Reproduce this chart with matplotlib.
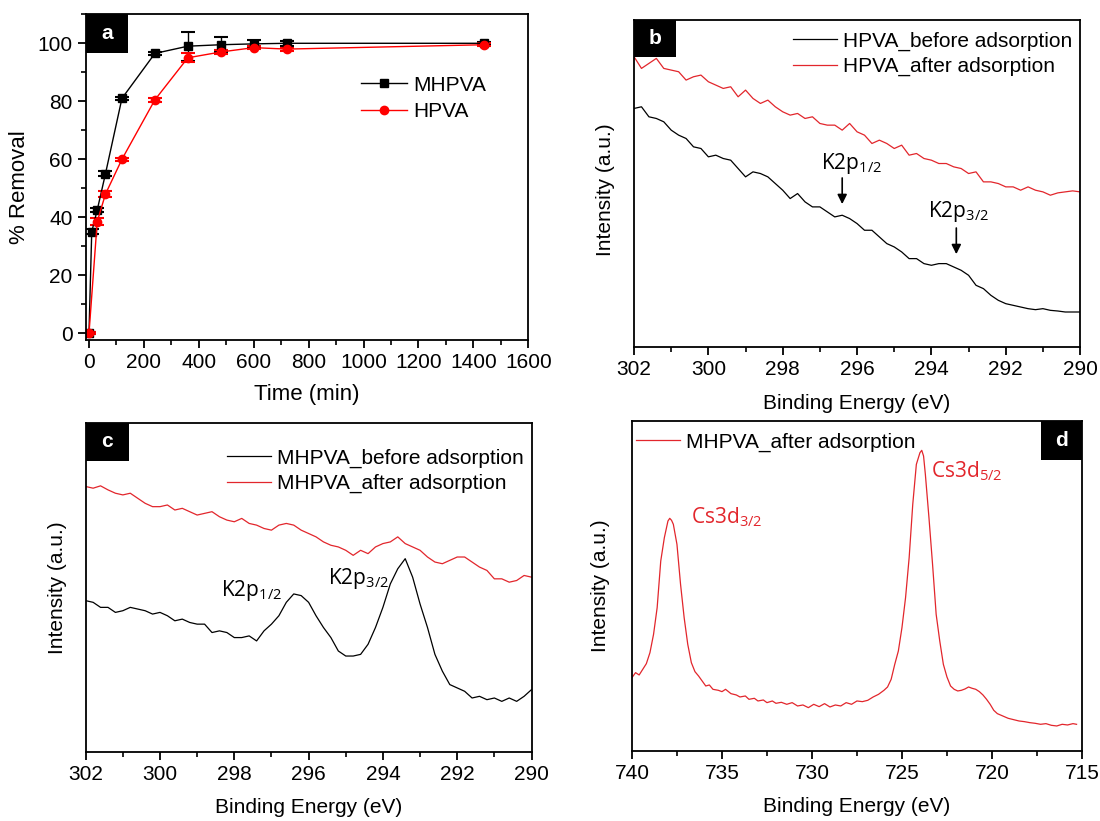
import matplotlib
matplotlib.use('Agg')
import matplotlib.pyplot as plt
from matplotlib.patches import Rectangle
from matplotlib.ticker import MultipleLocator
import numpy as np

plt.rcParams['font.family'] = ['Liberation Sans', 'DejaVu Sans']
plt.rcParams['axes.linewidth'] = 1.3
plt.rcParams['mathtext.fontset'] = 'dejavusans'

RED = '#e2262c'
ANNOT_FONT = ['Open Sans', 'DejaVu Sans']

# (a) removal kinetics
time_mhpva = [0, 10, 30, 60, 120, 240, 360, 480, 600, 720, 1440]
removal_mhpva = [0, 35, 42.5, 55, 81, 96.5, 99, 99.5, 99.8, 100, 100]
err_mhpva = [0.3, 0.8, 0.8, 0.8, 0.6, 0.5, 5.0, 2.5, 1.2, 0.8, 0.5]
time_hpva = [0, 30, 60, 120, 240, 360, 480, 600, 720, 1440]
removal_hpva = [0, 38.5, 48, 60, 80.5, 95, 97, 98.5, 98, 99.5]
err_hpva = [0.3, 1.2, 1.0, 0.6, 0.6, 1.5, 0.6, 0.6, 0.5, 0.5]

# (b) K 2p region, HPVA
be_b = np.linspace(302, 290, 61)
hpva_before = [715, 720, 690, 685, 675, 650, 635, 625, 600, 595, 570, 575, 565, 560, 535, 510,
               525, 520, 510, 490, 470, 445, 460, 435, 420, 420, 405, 390, 395, 385, 370, 350,
               350, 330, 310, 300, 285, 265, 265, 250, 245, 250, 250, 240, 230, 215, 185, 175,
               155, 140, 130, 125, 120, 115, 112, 115, 110, 108, 105, 105, 105]
hpva_after = [870, 835, 850, 865, 835, 830, 825, 800, 810, 815, 795, 785, 775, 780, 750, 770,
              745, 730, 740, 720, 705, 695, 700, 685, 690, 670, 665, 665, 650, 670, 645, 635,
              610, 620, 610, 595, 605, 575, 580, 565, 560, 550, 550, 540, 535, 520, 525, 495,
              495, 490, 480, 480, 470, 480, 470, 465, 455, 462, 465, 468, 465]

# (c) K 2p region, MHPVA
be_c = np.linspace(302, 290, 61)
mhpva_before = [450, 445, 430, 430, 415, 420, 430, 425, 420, 410, 415, 405, 390, 395, 385, 380,
                380, 355, 360, 355, 340, 340, 345, 330, 360, 380, 405, 445, 470, 465, 445, 405,
                370, 340, 300, 285, 285, 290, 320, 370, 430, 500, 545, 575, 520, 440, 370, 290,
                240, 200, 190, 180, 160, 165, 155, 160, 150, 160, 150, 165, 185]
mhpva_after = [790, 785, 792, 780, 770, 765, 770, 755, 740, 730, 730, 735, 720, 725, 715, 705,
               710, 715, 700, 690, 685, 695, 680, 675, 665, 660, 675, 680, 675, 660, 650, 640,
               625, 615, 610, 600, 585, 600, 590, 610, 620, 625, 640, 620, 610, 600, 580, 565,
               560, 570, 580, 580, 565, 550, 540, 515, 515, 505, 510, 525, 520]

# (d) Cs 3d region, MHPVA after adsorption
be_d = [740.0, 739.8, 739.6, 739.4, 739.2, 739.0, 738.8, 738.6, 738.4, 738.2, 738.0, 737.9,
        737.8, 737.7, 737.5, 737.3, 737.1, 736.9, 736.7, 736.5, 736.3, 736.1, 735.9, 735.7,
        735.5, 735.2, 735.0, 734.8, 734.5, 734.2, 734.0, 733.7, 733.5, 733.2, 733.0, 732.7,
        732.5, 732.2, 732.0, 731.7, 731.4, 731.1, 730.8, 730.5, 730.2, 729.9, 729.6, 729.3,
        729.0, 728.7, 728.4, 728.1, 727.8, 727.5, 727.2, 726.9, 726.6, 726.3, 726.0, 725.8,
        725.6, 725.4, 725.2, 725.0, 724.8, 724.6, 724.4, 724.2, 724.0, 723.9, 723.8, 723.7,
        723.5, 723.3, 723.1, 722.9, 722.7, 722.5, 722.3, 722.1, 721.9, 721.7, 721.5, 721.3,
        721.1, 720.9, 720.7, 720.5, 720.3, 720.1, 719.9, 719.7, 719.4, 719.1, 718.8, 718.5,
        718.2, 717.9, 717.6, 717.3, 717.0, 716.7, 716.4, 716.1, 715.8, 715.5, 715.3]
cs_after = [220, 235, 228, 245, 262, 295, 350, 430, 570, 640, 690, 698,
            692, 680, 620, 500, 400, 320, 265, 238, 225, 210, 195, 198,
            185, 182, 178, 185, 172, 168, 162, 165, 155, 158, 150, 153,
            145, 150, 143, 146, 140, 145, 135, 138, 130, 140, 133, 142,
            132, 138, 135, 145, 140, 150, 148, 152, 162, 170, 182, 192,
            215, 260, 300, 370, 460, 580, 740, 860, 895, 902, 885, 830,
            700, 560, 410, 330, 260, 222, 195, 185, 180, 182, 186, 192,
            188, 185, 178, 168, 155, 140, 122, 112, 105, 98, 94, 90,
            88, 85, 83, 80, 82, 77, 75, 80, 78, 82, 80]


def panel_tag(ax, letter, x0, w, h):
    ax.add_patch(Rectangle((x0, 1 - h), w, h, transform=ax.transAxes,
                           facecolor='black', edgecolor='none', clip_on=False, zorder=5))
    ax.text(x0 + w / 2, 1 - h / 2, letter, transform=ax.transAxes, color='white',
            fontsize=15, fontweight='bold', ha='center', va='center', zorder=6)


def style_xps(ax, lo, hi, major, minor, ylim):
    ax.set_xlim(lo, hi)
    ax.set_ylim(*ylim)
    ax.xaxis.set_major_locator(MultipleLocator(major))
    ax.xaxis.set_minor_locator(MultipleLocator(minor))
    ax.set_yticks([])
    ax.tick_params(axis='x', which='major', direction='out', length=6, width=1.3,
                   labelsize=15, top=False)
    ax.tick_params(axis='x', which='minor', direction='out', length=3.5, width=1.2, top=False)
    ax.set_xlabel('Binding Energy (eV)', fontsize=15)
    ax.set_ylabel('Intensity (a.u.)', fontsize=15)


def xps_legend(ax, x, y):
    ax.legend(loc='upper left', bbox_to_anchor=(x, y), frameon=False, fontsize=15,
              handlelength=2.1, handletextpad=0.3, labelspacing=0.3, borderpad=0,
              borderaxespad=0)


fig = plt.figure(figsize=(11, 8.21), dpi=100)

# ---- a ----
ax_a = fig.add_axes([0.0779, 0.5859, 0.4024, 0.3967])
ax_a.errorbar(time_mhpva, removal_mhpva, yerr=err_mhpva, color='black', marker='s',
              markersize=6, lw=1, capsize=5, capthick=1.5, elinewidth=1, label='MHPVA')
ax_a.errorbar(time_hpva, removal_hpva, yerr=err_hpva, color='red', marker='o',
              markersize=6, lw=1, capsize=5, capthick=1.5, elinewidth=1, label='HPVA')
ax_a.set_xlim(-12, 1600)
ax_a.set_ylim(-2.3, 110)
ax_a.xaxis.set_major_locator(MultipleLocator(200))
ax_a.xaxis.set_minor_locator(MultipleLocator(100))
ax_a.yaxis.set_major_locator(MultipleLocator(20))
ax_a.yaxis.set_minor_locator(MultipleLocator(10))
ax_a.tick_params(which='major', direction='out', length=6, width=1.3, labelsize=15)
ax_a.tick_params(which='minor', direction='out', length=3.5, width=1.2)
ax_a.set_xlabel('Time (min)', fontsize=16)
ax_a.set_ylabel('% Removal', fontsize=16)
ax_a.xaxis.set_label_coords(0.5, -0.135)
ax_a.yaxis.set_label_coords(-0.125, 0.47)
handles, labels = ax_a.get_legend_handles_labels()
ax_a.legend([h[0] for h in handles], labels, loc='upper left', bbox_to_anchor=(0.622, 0.812),
            frameon=False, fontsize=15, handlelength=2.2, handletextpad=0.3,
            labelspacing=0.35, borderpad=0, borderaxespad=0)
panel_tag(ax_a, 'a', 0.0, 0.095, 0.119)

# ---- b ----
ax_b = fig.add_axes([0.5764, 0.5773, 0.4055, 0.3983])
ax_b.plot(be_b, hpva_before, color='black', lw=0.9, label='HPVA_before adsorption')
ax_b.plot(be_b, hpva_after, color=RED, lw=0.9, label='HPVA_after adsorption')
style_xps(ax_b, 302, 290, 2, 1, (0, 980))
ax_b.xaxis.set_label_coords(0.5, -0.145)
ax_b.yaxis.set_label_coords(-0.043, 0.48)
xps_legend(ax_b, 0.357, 0.965)
ax_b.annotate('', xy=(296.4, 420), xytext=(296.4, 515),
              arrowprops=dict(arrowstyle='-|>', color='black', lw=1.2, mutation_scale=14))
ax_b.text(296.16, 550, r'K2p$_\mathregular{1/2}$', ha='center', va='center', fontsize=15,
          family=ANNOT_FONT)
ax_b.annotate('', xy=(293.33, 270), xytext=(293.33, 365),
              arrowprops=dict(arrowstyle='-|>', color='black', lw=1.2, mutation_scale=14))
ax_b.text(293.26, 405, r'K2p$_\mathregular{3/2}$', ha='center', va='center', fontsize=15,
          family=ANNOT_FONT)
panel_tag(ax_b, 'b', 0.0, 0.094, 0.112)

# ---- c ----
ax_c = fig.add_axes([0.0779, 0.0844, 0.4053, 0.4007])
ax_c.plot(be_c, mhpva_before, color='black', lw=0.9, label='MHPVA_before adsorption')
ax_c.plot(be_c, mhpva_after, color=RED, lw=0.9, label='MHPVA_after adsorption')
style_xps(ax_c, 302, 290, 2, 1, (0, 980))
ax_c.xaxis.set_label_coords(0.5, -0.14)
ax_c.yaxis.set_label_coords(-0.042, 0.5)
xps_legend(ax_c, 0.318, 0.922)
ax_c.text(297.54, 480, r'K2p$_\mathregular{1/2}$', ha='center', va='center', fontsize=15,
          family=ANNOT_FONT)
ax_c.text(294.66, 515, r'K2p$_\mathregular{3/2}$', ha='center', va='center', fontsize=15,
          family=ANNOT_FONT)
panel_tag(ax_c, 'c', 0.0, 0.097, 0.115)

# ---- d ----
ax_d = fig.add_axes([0.5745, 0.0853, 0.4091, 0.4019])
ax_d.plot(be_d, cs_after, color=RED, lw=0.9, label='MHPVA_after adsorption')
style_xps(ax_d, 740, 715, 5, 2.5, (0, 990))
ax_d.xaxis.set_label_coords(0.5, -0.14)
ax_d.yaxis.set_label_coords(-0.049, 0.5)
xps_legend(ax_d, 0.01, 0.965)
ax_d.text(736.7, 700, r'Cs3d$_\mathregular{3/2}$', color=RED, ha='left', va='center',
          fontsize=15, family=ANNOT_FONT)
ax_d.text(723.37, 840, r'Cs3d$_\mathregular{5/2}$', color=RED, ha='left', va='center',
          fontsize=15, family=ANNOT_FONT)
panel_tag(ax_d, 'd', 0.908, 0.092, 0.118)

fig.savefig('out.png', dpi=100)
plt.close(fig)
